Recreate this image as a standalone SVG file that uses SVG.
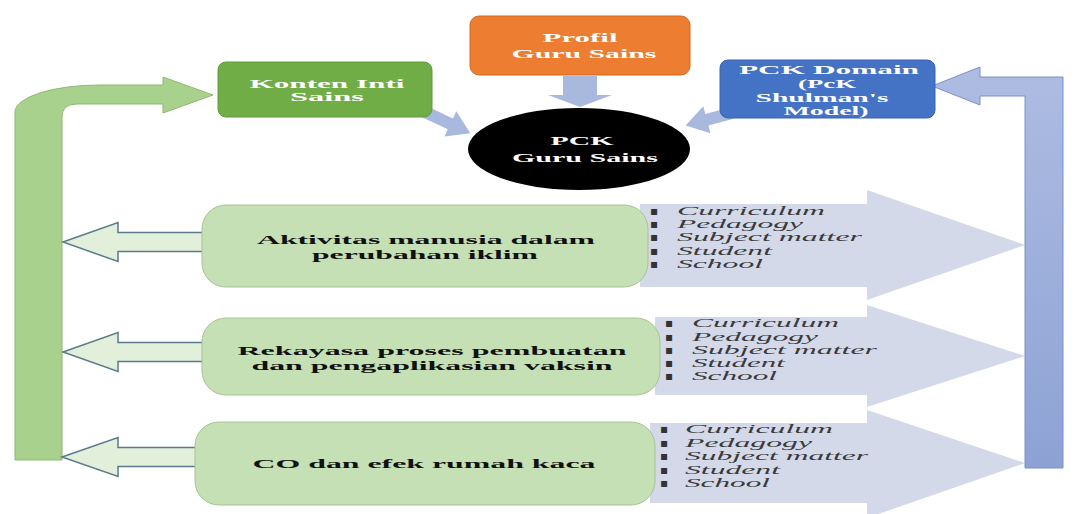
<svg xmlns="http://www.w3.org/2000/svg" width="1078" height="514" viewBox="0 0 1078 514">
<defs>
<linearGradient id="blueGrad" x1="0" y1="0" x2="0" y2="1">
<stop offset="0" stop-color="#aebce2"/>
<stop offset="1" stop-color="#8da2d4"/>
</linearGradient>
<style>
.wt{font-family:"Liberation Serif","Times New Roman",serif;font-weight:bold;font-size:13px;fill:#ffffff;text-anchor:middle}
.ws{font-family:"Liberation Serif","Times New Roman",serif;font-weight:bold;font-size:12.5px;fill:#ffffff;text-anchor:middle}
.bt{font-family:"Liberation Serif","Times New Roman",serif;font-weight:bold;font-size:13px;fill:#111111;text-anchor:middle}
.it{font-family:"Liberation Serif","Times New Roman",serif;font-style:italic;font-size:13px;fill:#3a3a3a}
.bu{font-family:"DejaVu Sans",sans-serif;font-size:12px;font-weight:bold;fill:#333333;text-anchor:middle}
.row{fill:#c5e0b4;stroke:#a6c493;stroke-width:1}
.lav{fill:#d4d9ea}
.hollow{fill:#e2efda;stroke:#5b7a8c;stroke-width:1.5}
.small{fill:#a9b9de}
</style>
</defs>
<rect width="1078" height="514" fill="#ffffff"/>

<g id="connectors">
  <polygon class="lav" points="640,204 867,204 867,190 1025,245 867,300 867,287 640,287"/>
  <polygon class="lav" points="655,317 867,317 867,305 1025,356 867,407 867,395 655,395"/>
  <polygon class="lav" points="650,423 867,423 867,410 1025,463 867,518 867,503 650,503"/>
  <path d="M213,95 L163,77 L163,85 L100,85 A85,27 0 0 0 15,112 L15,460 L62,460 L62,117 Q62,104 77,104 L163,104 L163,113 Z" fill="#a9d18e" stroke="#8dba70" stroke-width="1"/>
  <path d="M932,86 L980,67 L980,77 L1063,77 L1063,468 L1025,468 L1025,96 L980,96 L980,105 Z" fill="url(#blueGrad)" stroke="#7a90c6" stroke-width="1"/>
  <polygon class="hollow" points="63,242 118,222.5 118,232.5 205,232.5 205,251.5 118,251.5 118,261.5"/>
  <polygon class="hollow" points="63,352 118,332.5 118,342.5 205,342.5 205,361.5 118,361.5 118,371.5"/>
  <polygon class="hollow" points="62,457 118,437.5 118,447.5 205,447.5 205,466.5 118,466.5 118,476.5"/>
  <polygon class="small" points="563,76 597,76 597,95 612,95 580,107 548,95 563,95"/>
  <polygon class="small" transform="translate(425,112) rotate(25)" points="0,-6 28,-6 28,-14 50,0 28,14 28,6 0,6"/>
  <polygon class="small" transform="translate(732,113) rotate(165)" points="0,-6 26,-6 26,-14 48,0 26,14 26,6 0,6"/>
</g>

<g id="profil">
  <rect x="470" y="16" width="220" height="59" rx="9" fill="#ed7d31" stroke="#d2691f" stroke-width="1"/>
  <text class="wt" x="580" y="41.5" textLength="75" lengthAdjust="spacingAndGlyphs">Profil</text>
  <text class="wt" x="584" y="58" textLength="145" lengthAdjust="spacingAndGlyphs">Guru Sains</text>
</g>

<g id="konten">
  <rect x="218" y="62" width="214" height="55" rx="8" fill="#70ad47" stroke="#5f9a3b" stroke-width="1"/>
  <text class="wt" x="327" y="87.5" textLength="155" lengthAdjust="spacingAndGlyphs">Konten Inti</text>
  <text class="wt" x="327" y="101" textLength="74" lengthAdjust="spacingAndGlyphs">Sains</text>
</g>

<g id="pck-domain">
  <rect x="720" y="60" width="215" height="58" rx="8" fill="#4472c4" stroke="#3a64b0" stroke-width="1"/>
  <text class="ws" x="829" y="74" textLength="180" lengthAdjust="spacingAndGlyphs">PCK Domain</text>
  <text class="ws" x="827" y="88" textLength="58" lengthAdjust="spacingAndGlyphs">(PcK</text>
  <text class="ws" x="822" y="101.5" textLength="133" lengthAdjust="spacingAndGlyphs">Shulman's</text>
  <text class="ws" x="826" y="114.5" textLength="85" lengthAdjust="spacingAndGlyphs">Model)</text>
</g>

<g id="pck-guru">
  <ellipse cx="579" cy="149" rx="111" ry="41" fill="#000000"/>
  <text class="wt" x="582" y="144.5" textLength="63" lengthAdjust="spacingAndGlyphs">PCK</text>
  <text class="wt" x="585" y="162" textLength="146" lengthAdjust="spacingAndGlyphs">Guru Sains</text>
</g>

<g id="row1">
  <rect class="row" x="202" y="205" width="446" height="82" rx="24"/>
  <text class="bt" x="426" y="243.5" textLength="338" lengthAdjust="spacingAndGlyphs">Aktivitas manusia dalam</text>
  <text class="bt" x="425" y="258.5" textLength="226" lengthAdjust="spacingAndGlyphs">perubahan iklim</text>
</g>
<g id="list1">
  <text class="bu" x="654" y="215">▪</text><text class="it" x="677" y="215" textLength="148" lengthAdjust="spacingAndGlyphs">Curriculum</text>
  <text class="bu" x="654" y="228">▪</text><text class="it" x="677" y="228" textLength="126" lengthAdjust="spacingAndGlyphs">Pedagogy</text>
  <text class="bu" x="654" y="241">▪</text><text class="it" x="677" y="241" textLength="185" lengthAdjust="spacingAndGlyphs">Subject matter</text>
  <text class="bu" x="654" y="254.5">▪</text><text class="it" x="677" y="254.5" textLength="95" lengthAdjust="spacingAndGlyphs">Student</text>
  <text class="bu" x="654" y="267.5">▪</text><text class="it" x="677" y="267.5" textLength="86" lengthAdjust="spacingAndGlyphs">School</text>
</g>

<g id="row2">
  <rect class="row" x="202" y="318" width="458" height="77" rx="24"/>
  <text class="bt" x="432" y="355" textLength="389" lengthAdjust="spacingAndGlyphs">Rekayasa proses pembuatan</text>
  <text class="bt" x="432" y="369.5" textLength="361" lengthAdjust="spacingAndGlyphs">dan pengaplikasian vaksin</text>
</g>
<g id="list2">
  <text class="bu" x="669" y="327">▪</text><text class="it" x="692" y="327" textLength="147" lengthAdjust="spacingAndGlyphs">Curriculum</text>
  <text class="bu" x="669" y="341">▪</text><text class="it" x="692" y="341" textLength="126" lengthAdjust="spacingAndGlyphs">Pedagogy</text>
  <text class="bu" x="669" y="354">▪</text><text class="it" x="692" y="354" textLength="185" lengthAdjust="spacingAndGlyphs">Subject matter</text>
  <text class="bu" x="669" y="367">▪</text><text class="it" x="692" y="367" textLength="93" lengthAdjust="spacingAndGlyphs">Student</text>
  <text class="bu" x="669" y="380">▪</text><text class="it" x="692" y="380" textLength="85" lengthAdjust="spacingAndGlyphs">School</text>
</g>

<g id="row3">
  <rect class="row" x="195" y="422" width="460" height="83" rx="24"/>
  <text class="bt" x="424" y="467.5" textLength="343" lengthAdjust="spacingAndGlyphs">CO dan efek rumah kaca</text>
</g>
<g id="list3">
  <text class="bu" x="664" y="433">▪</text><text class="it" x="685" y="433" textLength="148" lengthAdjust="spacingAndGlyphs">Curriculum</text>
  <text class="bu" x="664" y="446.5">▪</text><text class="it" x="685" y="446.5" textLength="127" lengthAdjust="spacingAndGlyphs">Pedagogy</text>
  <text class="bu" x="664" y="460">▪</text><text class="it" x="685" y="460" textLength="183" lengthAdjust="spacingAndGlyphs">Subject matter</text>
  <text class="bu" x="664" y="473.5">▪</text><text class="it" x="685" y="473.5" textLength="95" lengthAdjust="spacingAndGlyphs">Student</text>
  <text class="bu" x="664" y="487">▪</text><text class="it" x="685" y="487" textLength="85" lengthAdjust="spacingAndGlyphs">School</text>
</g>
</svg>
